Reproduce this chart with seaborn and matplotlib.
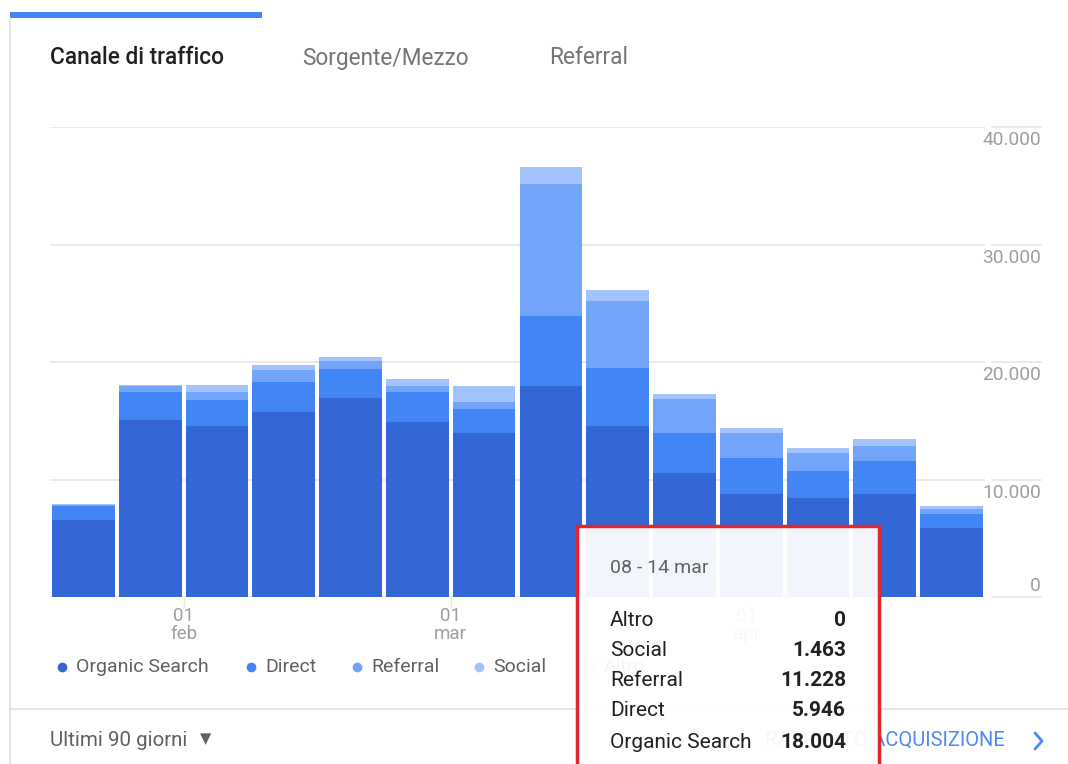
import numpy as np
import pandas as pd
import matplotlib
matplotlib.use("Agg")
import matplotlib.pyplot as plt
import seaborn as sns
from matplotlib.patches import Rectangle
from matplotlib.lines import Line2D
from matplotlib.transforms import offset_copy

# ---------------- data ----------------
weeks = ["18 - 24 gen", "25 - 31 gen", "01 - 07 feb", "08 - 14 feb", "15 - 21 feb",
         "22 - 28 feb", "01 - 07 mar", "08 - 14 mar", "15 - 21 mar", "22 - 28 mar",
         "29 mar - 04 apr", "05 - 11 apr", "12 - 18 apr", "19 - 25 apr"]
organic = [6550, 15040, 14550, 15740, 16960, 14920, 13960, 18004, 14550, 10520, 8740, 8400, 8740, 5900]
direct = [1190, 2380, 2210, 2550, 2440, 2500, 2040, 5946, 4940, 3430, 3060, 2330, 2840, 1170]
referral = [110, 550, 710, 1000, 680, 540, 600, 11228, 5730, 2920, 2160, 1560, 1280, 400]
social = [60, 100, 600, 450, 320, 570, 1360, 1463, 960, 450, 400, 430, 620, 280]
altro = [0, 0, 0, 0, 0, 0, 0, 0, 0, 0, 0, 0, 0, 0]

series_names = ["Organic Search", "Direct", "Referral", "Social", "Altro"]
series_colors = ["#3367d6", "#4285f4", "#72a4f7", "#a1c2fa", "#d2e3fc"]

y_ticks = [0, 10000, 20000, 30000, 40000]
y_tick_labels = ["0", "10.000", "20.000", "30.000", "40.000"]

start_date = "2021-01-18"
month_dates = ["2021-02-01", "2021-03-01", "2021-04-01"]
month_labels = ["01\nfeb", "01\nmar", "01\napr"]

tabs = ["Canale di traffico", "Sorgente/Mezzo", "Referral"]
period_label = "Ultimi 90 giorni"
report_link = "RAPPORTO ACQUISIZIONE"
tooltip_index = 7

# ---------------- figure ----------------
sns.set_theme(style="white")
plt.rcParams["font.family"] = ["Roboto", "DejaVu Sans"]

W, H = 1068, 764
fig = plt.figure(figsize=(W / 100, H / 100), dpi=100)
fig.patch.set_facecolor("white")


def fx(x):
    return x / W


def fy(y):
    return 1 - y / H


ax = fig.add_axes([fx(50), fy(597), fx(985) - fx(50), fy(127.3) - fy(597)])
ax.set_facecolor("none")

stack = np.vstack([organic, direct, referral, social, altro])
cum = np.cumsum(stack, axis=0)
for i in reversed(range(len(series_names))):
    sns.barplot(x=weeks, y=cum[i], order=weeks, color=series_colors[i], saturation=1,
                width=0.94, errorbar=None, linewidth=0, edgecolor="none", ax=ax, zorder=2)

ax.set_xlim(-0.5, len(weeks) - 0.5)
ax.set_ylim(0, 40000)
for s in ax.spines.values():
    s.set_visible(False)
ax.set_ylabel("")
ax.set_xlabel("")
ax.set_yticks([])

grid_c = "#e6e6e6"
ylab_tr_below = offset_copy(ax.get_yaxis_transform(), fig=fig, y=-13, units="dots")
ylab_tr_above = offset_copy(ax.get_yaxis_transform(), fig=fig, y=11, units="dots")
for v, lab in zip(y_ticks, y_tick_labels):
    ax.axhline(v, color=grid_c, lw=1.2, zorder=0.5)
    ax.plot([1.0075, 1.06], [v, v], transform=ax.get_yaxis_transform(), clip_on=False,
            color=grid_c, lw=1.2)
    ax.text(1.06, v, lab, transform=(ylab_tr_above if v == 0 else ylab_tr_below),
            ha="right", va="center", fontsize=13.8, color="#9e9e9e")

month_pos = (pd.to_datetime(month_dates) - pd.Timestamp(start_date)).days / 7 - 0.5
ax.set_xticks(list(month_pos))
ax.set_xticklabels(month_labels, linespacing=1.0)
ax.tick_params(axis="x", length=7, width=1, color="#e6e6e6", pad=0,
               labelsize=13.5, labelcolor="#9e9e9e", bottom=True)

# ---------------- header ----------------
fig.add_artist(Rectangle((fx(10), fy(18)), fx(262) - fx(10), fy(12) - fy(18),
                         transform=fig.transFigure, color="#4285f4", lw=0))
fig.add_artist(Line2D([fx(10), fx(10)], [fy(18), fy(764)], transform=fig.transFigure,
                      color="#e0e0e0", lw=1.2))
tab_x = [50, 302, 549]
for i, (t, x) in enumerate(zip(tabs, tab_x)):
    fig.text(fx(x), fy(58), t, ha="left", va="center", fontsize=16.3,
             color="#212121" if i == 0 else "#757575",
             fontweight="medium" if i == 0 else "normal")

# ---------------- legend ----------------
leg_x = [62, 251, 357, 479, 590]
for name, col, x in zip(series_names, series_colors, leg_x):
    fig.add_artist(Line2D([fx(x)], [fy(667)], transform=fig.transFigure, marker="o",
                          markersize=6, color=col, lw=0))
    fig.text(fx(x + 14), fy(667), name, ha="left", va="center", fontsize=14,
             color="#616161")

# ---------------- footer ----------------
fig.add_artist(Line2D([fx(10), fx(1068)], [fy(709), fy(709)], transform=fig.transFigure,
                      color="#e0e0e0", lw=1.2))
fig.text(fx(50), fy(740), period_label, ha="left", va="center", fontsize=14.8,
         color="#616161")
fig.text(fx(200), fy(739), "▼", ha="left", va="center", fontsize=10.5, color="#616161",
         family=["DejaVu Sans"])
fig.text(fx(1005), fy(740), report_link, ha="right", va="center", fontsize=14.5,
         color="#4a8af4")
fig.add_artist(Line2D([fx(1035), fx(1042), fx(1035)], [fy(733), fy(741), fy(749)],
                      transform=fig.transFigure, color="#4a8af4", lw=2))

# ---------------- tooltip ----------------
fig.add_artist(Rectangle((fx(577), fy(790)), fx(879) - fx(577), fy(526) - fy(790),
                         transform=fig.transFigure, facecolor=(1, 1, 1, 0.94),
                         edgecolor="#e3262e", lw=2.5, zorder=10, clip_on=False))
fig.text(fx(610), fy(568), weeks[tooltip_index], ha="left", va="center", fontsize=14,
         color="#616161", zorder=11)


def fmt(v):
    return f"{int(v):,}".replace(",", ".")


rows = [("Altro", altro), ("Social", social), ("Referral", referral),
        ("Direct", direct), ("Organic Search", organic)]
row_y = [620, 651, 681, 711, 742]
for (name, vals), y in zip(rows, row_y):
    fig.text(fx(610), fy(y), name, ha="left", va="center", fontsize=15,
             color="#212121", zorder=11)
    fig.text(fx(846), fy(y), fmt(vals[tooltip_index]), ha="right", va="center",
             fontsize=15, color="#212121", fontweight="bold", zorder=11)

fig.savefig("out.png", dpi=100, facecolor="white")
